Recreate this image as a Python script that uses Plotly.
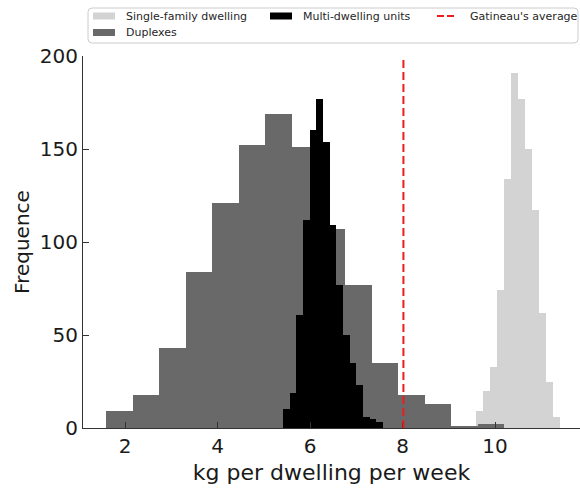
import numpy as np
import plotly.graph_objects as go

# Histogram counts per bin (1000 simulated dwellings per type)
single_family_start = 9.444
single_family_width = 0.1509
single_family_counts = [1, 9, 20, 33, 74, 134, 191, 177, 150, 117, 62, 25, 6]

duplex_start = 1.589
duplex_width = 0.5744
duplex_counts = [9, 18, 43, 84, 121, 152, 169, 151, 107, 77, 35, 18, 13, 1, 2]

multi_start = 5.416
multi_width = 0.1441
multi_counts = [10, 19, 61, 112, 160, 177, 154, 109, 77, 50, 35, 23, 6, 5, 3]

gatineau_average = 8.02

x_ticks = [2, 4, 6, 8, 10]
y_ticks = [0, 50, 100, 150, 200]

series_labels = ["Single-family dwelling", "Duplexes", "Multi-dwelling units", "Gatineau's average"]

COL_SF = "#d3d3d3"
COL_DUP = "#696969"
COL_MULTI = "#000000"
COL_AVG = "#ee1c1c"
FONT = "DejaVu Sans"

W, H = 580, 488
ML, MR, MT, MB = 83, 0, 56, 60
PW, PH = W - ML - MR, H - MT - MB


def centers(start, width, counts):
    return start + width * (np.arange(len(counts)) + 0.5)


def px(xp):
    return (xp - ML) / PW


def py(yp):
    return (H - MB - yp) / PH


fig = go.Figure()
for start, width, counts, color in [
    (single_family_start, single_family_width, single_family_counts, COL_SF),
    (duplex_start, duplex_width, duplex_counts, COL_DUP),
    (multi_start, multi_width, multi_counts, COL_MULTI),
]:
    fig.add_trace(go.Bar(
        x=centers(start, width, counts), y=counts, width=width,
        marker=dict(color=color, line=dict(width=0)),
        showlegend=False, hoverinfo="skip",
    ))

# Average reference line across the full plot height
fig.add_shape(type="line", xref="x", yref="paper", x0=gatineau_average, x1=gatineau_average,
              y0=0, y1=1, line=dict(color=COL_AVG, width=2, dash="8px,4px"), layer="above")

# Legend frame with rounded corners
x0, x1, y0, y1, r = px(88), px(578), py(8), py(43), 4
rx, ry = r / PW, r / PH
frame = (f"M{x0+rx},{y0} L{x1-rx},{y0} Q{x1},{y0} {x1},{y0-ry} L{x1},{y1+ry} Q{x1},{y1} {x1-rx},{y1} "
         f"L{x0+rx},{y1} Q{x0},{y1} {x0},{y1+ry} L{x0},{y0-ry} Q{x0},{y0} {x0+rx},{y0} Z")
fig.add_shape(type="path", xref="paper", yref="paper", path=frame,
              line=dict(color="#cccccc", width=1), fillcolor="rgba(255,255,255,0.8)", layer="above")

legend_items = [
    (series_labels[0], COL_SF, "patch", 93, 16),
    (series_labels[1], COL_DUP, "patch", 93, 32.5),
    (series_labels[2], COL_MULTI, "patch", 270, 16),
    (series_labels[3], COL_AVG, "line", 437, 16),
]
for label, color, kind, xl, yc in legend_items:
    if kind == "patch":
        fig.add_shape(type="rect", xref="paper", yref="paper",
                      x0=px(xl), x1=px(xl + 22), y0=py(yc - 3.5), y1=py(yc + 3.5),
                      fillcolor=color, line=dict(width=0), layer="above")
    else:
        fig.add_shape(type="line", xref="paper", yref="paper",
                      x0=px(xl), x1=px(xl + 20), y0=py(yc), y1=py(yc),
                      line=dict(color=color, width=2, dash="7px,3px"), layer="above")
    fig.add_annotation(x=px(xl + 31), y=py(yc), xref="paper", yref="paper",
                       text=label, showarrow=False, xanchor="left", yanchor="middle",
                       font=dict(family=FONT, size=11, color="#262626"))

fig.update_layout(
    width=W, height=H,
    margin=dict(l=ML, r=MR, t=MT, b=MB, pad=0),
    barmode="overlay", bargap=0,
    plot_bgcolor="white", paper_bgcolor="white",
    font=dict(family=FONT, color="#1a1a1a"),
)
fig.update_xaxes(
    range=[(ML - 32.5) / 46.25, (W - 32.5) / 46.25],
    tickvals=x_ticks, ticktext=[str(v) for v in x_ticks],
    ticks="inside", ticklen=6, tickwidth=1.2, tickcolor="#333",
    showline=True, linecolor="#333", linewidth=1.2,
    showgrid=False, zeroline=False,
    tickfont=dict(size=20),
    title=dict(text="kg per dwelling per week", font=dict(size=22), standoff=7),
)
fig.update_yaxes(
    range=[0, 200],
    tickvals=y_ticks, ticktext=[str(v) for v in y_ticks],
    ticks="inside", ticklen=6, tickwidth=1.2, tickcolor="#333",
    showline=True, linecolor="#333", linewidth=1.2,
    showgrid=False, zeroline=False,
    tickfont=dict(size=20),
    title=dict(text="Frequence", font=dict(size=20), standoff=4),
)

fig.write_html("out.html")
